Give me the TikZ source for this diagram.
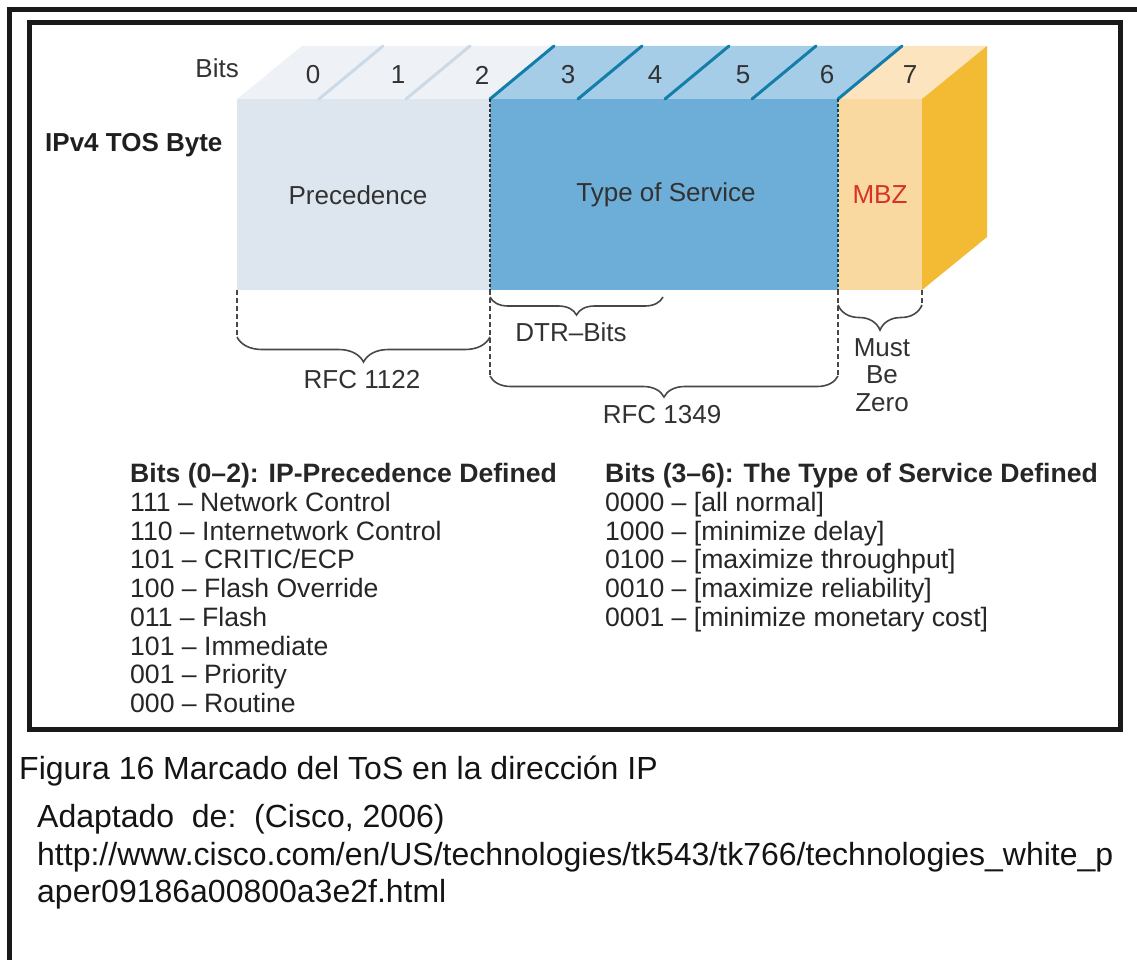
\documentclass[tikz,border=0pt]{standalone}
\usepackage{fontspec}
\setmainfont{Liberation Sans}
\usetikzlibrary{decorations.pathreplacing}

\definecolor{precfront}{RGB}{221,229,238}
\definecolor{prectop}{RGB}{238,242,246}
\definecolor{precline}{RGB}{204,217,230}
\definecolor{tosfront}{RGB}{108,174,215}
\definecolor{tostop}{RGB}{166,205,231}
\definecolor{tosline}{RGB}{20,126,170}
\definecolor{mbzfront}{RGB}{250,217,160}
\definecolor{mbztop}{RGB}{252,229,190}
\definecolor{mbzside}{RGB}{243,186,52}
\definecolor{mbzred}{RGB}{214,50,42}
\definecolor{ink}{RGB}{50,50,50}

\tikzset{
  lbl/.style={font=\fontsize{26}{30}\selectfont, text=ink, inner sep=0pt, yshift=-2pt},
  lst/.style={font=\fontsize{26.6}{30}\selectfont, text=black!85, anchor=mid west, inner sep=0pt, yshift=-2pt},
  lsthead/.style={lst, font=\fontsize{26.6}{30}\selectfont\bfseries},
  captext/.style={font=\fontsize{32}{36}\selectfont, text=black!92, anchor=mid west, inner sep=0pt, yshift=-2pt},
  guide/.style={dash pattern=on 5pt off 3pt, line width=1.4pt, draw=ink!90},
  seam/.style={dash pattern=on 3pt off 2pt, line width=2pt},
  bracket/.style={decorate, decoration={brace, amplitude=#1}, line width=1.6pt, draw=ink!90},
  slash/.style={line width=3pt, line cap=round},
  frame/.style={line width=5pt, draw=black!90}
}

\begin{document}
\begin{tikzpicture}[x=1pt,y=-1pt]
\useasboundingbox (0,0) rectangle (1137,960);

% outer page border and inner figure frame
\draw[frame] (9,962) -- (9,10) -- (1140,10);
\draw[frame] (29,23) rectangle (1120,729);

% ---- the TOS byte as a 3-D bar ----
% front faces
\fill[precfront] (237,99) rectangle (490,290);
\fill[tosfront] (490,99) rectangle (838,290);
\fill[mbzfront] (838,99) rectangle (922,290);
% top faces
\fill[prectop] (237,99) -- (490,99) -- (555,46) -- (302,46) -- cycle;
\fill[tostop] (490,99) -- (838,99) -- (903,46) -- (555,46) -- cycle;
\fill[mbztop] (838,99) -- (922,99) -- (987,46) -- (903,46) -- cycle;
% right side face
\fill[mbzside] (922,99) -- (987,46) -- (987,237) -- (922,290) -- cycle;

% bit separators on the top face
\foreach \x in {319,406}
  \draw[slash, precline] (\x,99) -- ++(64,-53);
\foreach \x in {490,578,665,752,838}
  \draw[slash, tosline] (\x,99) -- ++(64,-53);

% seams between the fields on the front face
\draw[seam, draw=ink] (490,99) -- (490,290);
\draw[seam, draw=tosline!55!black] (838,99) -- (838,290);

% bit numbers
\node[lbl, anchor=mid east] (bits) at (239,73) {Bits};
\foreach \n/\x in {0/313,1/398,2/482,3/568,4/655,5/743,6/827,7/910}
  \node[lbl] (b\n) at (\x,73) {\n};

\node[lbl, anchor=mid west, font=\fontsize{26}{30}\selectfont\bfseries, text=black!88] (tosbyte) at (45,147) {IPv4 TOS Byte};

% field names
\node[lbl] (prec) at (358,193) {Precedence};
\node[lbl] (tos) at (666,193) {Type of Service};
\node[lbl, text=mbzred] (mbz) at (880,193) {MBZ};

% ---- guides and braces under the bar ----
\coordinate (pL) at (237,290);
\coordinate (pR) at (490,290);
\coordinate (mR) at (838,290);
\coordinate (zR) at (922,290);

\coordinate (r1122a) at (237,337);
\coordinate (r1122b) at (490,337);
\coordinate (dtra) at (490,297);
\coordinate (dtrb) at (663,297);
\coordinate (r1349a) at (490,376);
\coordinate (r1349b) at (838,376);
\coordinate (mbza) at (838,305);
\coordinate (mbzb) at (922,305);

\draw[guide] (pL) -- (r1122a);
\draw[guide] (pR) -- (r1349a);
\draw[guide] (mR) -- (r1349b);
\draw[guide] (zR) -- (mbzb);

\draw[bracket=25pt] (r1122b) -- (r1122a);
\draw[bracket=18pt] (dtrb) -- (dtra);
\draw[bracket=21pt] (r1349b) -- (r1349a);
\draw[bracket=25pt] (mbzb) -- (mbza);

\node[lbl] (rfc1122) at (362,378) {RFC 1122};
\node[lbl] (dtr) at (571,330) {DTR–Bits};
\node[lbl] (rfc1349) at (662,413) {RFC 1349};
\node[lbl] (must) at (882,346) {Must};
\node[lbl] (be) at (882,373) {Be};
\node[lbl] (zero) at (882,401) {Zero};

% ---- value tables ----
\node[lsthead] (lh) at (130,478) {Bits (0–2): IP-Precedence Defined};
\node[lst] (l1) at (130,507) {111 – Network Control};
\node[lst] (l2) at (130,536) {110 – Internetwork Control};
\node[lst] (l3) at (130,564) {101 – CRITIC/ECP};
\node[lst] (l4) at (130,593) {100 – Flash Override};
\node[lst] (l5) at (130,622) {011 – Flash};
\node[lst] (l6) at (130,651) {101 – Immediate};
\node[lst] (l7) at (130,679) {001 – Priority};
\node[lst] (l8) at (130,708) {000 – Routine};

\node[lsthead] (rh) at (605,478) {Bits (3–6): The Type of Service Defined};
\node[lst] (r1) at (605,507) {0000 – [all normal]};
\node[lst] (r2) at (605,536) {1000 – [minimize delay]};
\node[lst] (r3) at (605,564) {0100 – [maximize throughput]};
\node[lst] (r4) at (605,593) {0010 – [maximize reliability]};
\node[lst] (r5) at (605,622) {0001 – [minimize monetary cost]};

% ---- caption ----
\node[captext] (fig) at (19,775) {Figura 16 Marcado del ToS en la dirección IP};
\node[captext] (src) at (37,823) {Adaptado\ \ de:\ \ (Cisco, 2006)};
\node[captext] (url1) at (37,861) {http://www.cisco.com/en/US/technologies/tk543/tk766/technologies\_white\_p};
\node[captext] (url2) at (37,898) {aper09186a00800a3e2f.html};
\end{tikzpicture}
\end{document}
